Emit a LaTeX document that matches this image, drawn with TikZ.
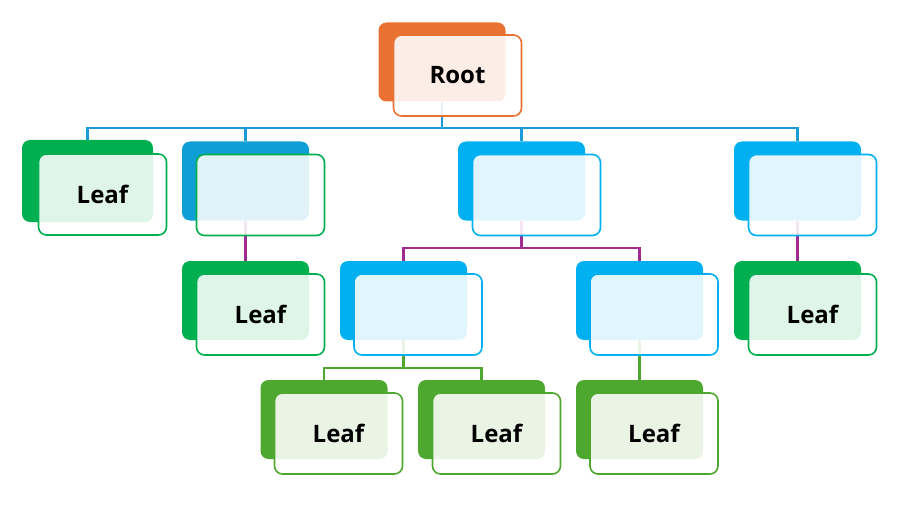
\documentclass[tikz,border=0pt]{standalone}
\usepackage{fontspec}
\setmainfont{Open Sans}
\begin{document}
\begin{tikzpicture}[x=1pt,y=-1pt,
  back/.style={rounded corners=8pt, minimum width=127pt, minimum height=79pt, inner sep=0pt, fill=#1},
  front/.style={draw=#1, line width=1.6pt, rounded corners=8pt, fill=white, fill opacity=0.88, text opacity=1,
    minimum width=128pt, minimum height=81pt, inner sep=0pt, font=\fontsize{24}{28}\selectfont\bfseries},
  conn/.style={line width=2.2pt, draw=#1}
]
\definecolor{corange}{HTML}{E97132}
\definecolor{cgreen}{HTML}{00B050}
\definecolor{cblueA}{HTML}{0F9ED5}
\definecolor{cblue}{HTML}{00B0F0}
\definecolor{cgreenB}{HTML}{4EA72E}
\definecolor{cpurple}{HTML}{A02B93}
\definecolor{cbus}{HTML}{1A9AD6}
\useasboundingbox (0,0) rectangle (909,505);
% back rectangles
\node[back=corange] (rootb) at (442,62) {};
\node[back=cgreen, minimum width=131pt, minimum height=82pt] (ab) at (87.5,181) {};
\node[back=cblueA] (bb) at (245.5,181) {};
\node[back=cblue] (cb) at (521.5,181) {};
\node[back=cblue] (db) at (797.5,181) {};
\node[back=cgreen] (eb) at (245.5,300.5) {};
\node[back=cblue] (fb) at (403.5,300.5) {};
\node[back=cblue] (gb) at (639.5,300.5) {};
\node[back=cgreen] (hb) at (797.5,300.5) {};
\node[back=cgreenB] (ib) at (324,419.5) {};
\node[back=cgreenB] (jb) at (481.5,419.5) {};
\node[back=cgreenB] (kb) at (639.5,419.5) {};
% connectors
\foreach \c in {ab,bb,cb,db}
  \draw[conn=cbus] (rootb.south) -- ++(0,26) -| (\c.north);
\foreach \c in {fb,gb}
  \draw[conn=cpurple] (cb.south) -- ++(0,27) -| (\c.north);
\draw[conn=cpurple] (bb.south) -- (eb.north);
\draw[conn=cpurple] (db.south) -- (hb.north);
\foreach \c in {ib,jb}
  \draw[conn=cgreenB] (fb.south) -- ++(0,28) -| (\c.north);
\draw[conn=cgreenB] (gb.south) -- (kb.north);
% front rectangles
\node[front=corange] (rootf) at (457.5,75.5) {Root};
\node[front=cgreen] (af) at (102.5,194.5) {Leaf};
\node[front=cgreen] (bf) at (260.5,195) {};
\node[front=cblue] (cf) at (536.5,195) {};
\node[front=cblue] (df) at (812.5,195) {};
\node[front=cgreen] (ef) at (260.5,314.5) {Leaf};
\node[front=cblue] (ff) at (418,314.5) {};
\node[front=cblue] (gf) at (654,314.5) {};
\node[front=cgreen] (hf) at (812.5,314.5) {Leaf};
\node[front=cgreenB] (if) at (338.5,433.5) {Leaf};
\node[front=cgreenB] (jf) at (496.5,433.5) {Leaf};
\node[front=cgreenB] (kf) at (654,433.5) {Leaf};
\end{tikzpicture}
\end{document}
